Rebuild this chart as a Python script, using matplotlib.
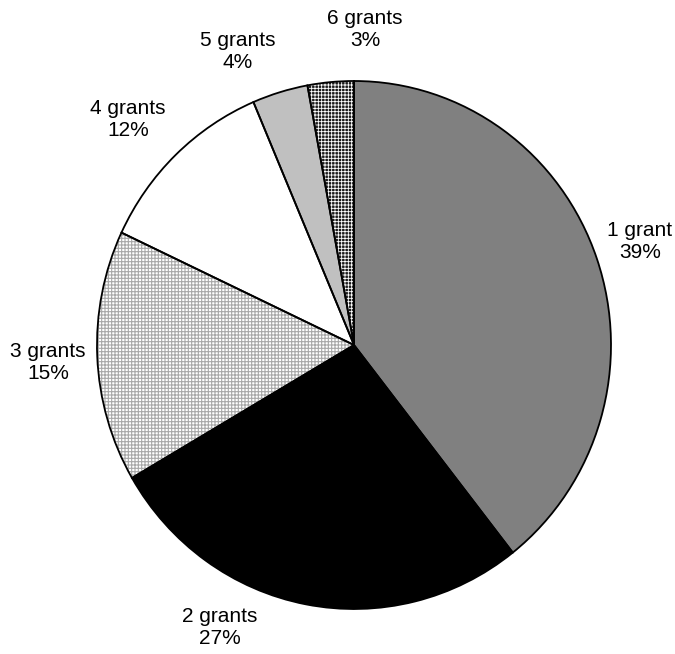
import matplotlib.pyplot as plt
from matplotlib.patches import Wedge

plt.rcParams["font.family"] = ["Liberation Sans", "DejaVu Sans"]

# data (share of recipients)
categories = ["1 grant", "2 grants", "3 grants", "4 grants", "5 grants", "6 grants"]
shares = [39.4, 27.2, 15.4, 11.6, 3.5, 2.9]

# styling
face_colors = ["#808080", "#000000", "#ffffff", "#ffffff", "#c0c0c0", "#1a1a1a"]
hatches = [None, None, "+++++", None, None, "+++++"]
hatch_colors = [None, None, "#a8a8a8", None, None, "#ffffff"]
hatch_widths = [0, 0, 0.8, 0, 0, 0.6]
label_pos = [(640, 242), (220, 628), (48, 362), (128, 119), (238, 52), (365, 30)]

W, H = 675, 654
cx, cy = 354, 345      # pixel centre (from top-left)
rx, ry = 257, 264      # pie is slightly stretched vertically

fig = plt.figure(figsize=(W / 100, H / 100), dpi=100)
ax = fig.add_axes([0, 0, 1, 1])

# fills
wedges, _ = ax.pie(shares, colors=face_colors, startangle=90, counterclock=False,
                   wedgeprops=dict(linewidth=0))

# hatch overlays
for w, h, hc, hw in zip(wedges, hatches, hatch_colors, hatch_widths):
    if h is None:
        continue
    plt.rcParams["hatch.linewidth"] = hw
    ov = Wedge(w.center, w.r, w.theta1, w.theta2, facecolor="none",
               edgecolor=hc, hatch=h, linewidth=0, zorder=2)
    ax.add_patch(ov)

# outlines
for w in wedges:
    ax.add_patch(Wedge(w.center, w.r, w.theta1, w.theta2, facecolor="none",
                       edgecolor="black", linewidth=1.3, zorder=3))

for name, val, (x, y) in zip(categories, shares, label_pos):
    fig.text(x / W, 1 - y / H, f"{name}\n{val:.0f}%", ha="center", va="center",
             fontsize=15, linespacing=1.2, color="black")

ax.set_aspect("auto")
ax.set_xlim(-cx / rx, (W - cx) / rx)
ax.set_ylim(-(H - cy) / ry, cy / ry)
ax.axis("off")

fig.savefig("out.png", dpi=100)
